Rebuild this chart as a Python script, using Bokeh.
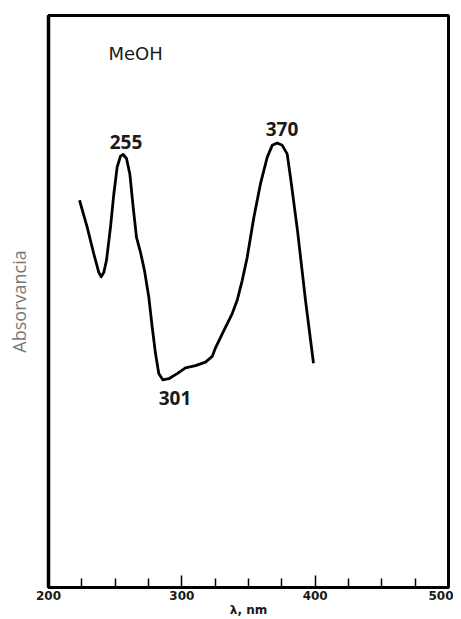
from bokeh.plotting import figure
from bokeh.models import FixedTicker, Range1d
from bokeh.core.properties import value
from bokeh.embed import file_html
from bokeh.resources import INLINE

# Spectrum (wavelength nm, relative absorbance)
wavelength = [223.25, 229.0, 234.0, 237.7, 239.5, 241.5, 243.5, 246.5, 249.0, 251.5,
              254.0, 256.0, 258.5, 261.0, 263.5, 266.0, 269.0, 272.0, 275.2, 277.8,
              280.25, 282.7, 285.7, 290.2, 296.5, 302.75, 310.25, 317.75, 322.8, 325.25,
              331.5, 337.8, 341.5, 345.3, 349.0, 354.0, 359.0, 364.0, 367.8, 371.5,
              375.3, 379.0, 381.5, 386.75, 392.75, 398.75]
absorbance = [0.677, 0.630, 0.583, 0.551, 0.543, 0.551, 0.572, 0.630, 0.688, 0.735,
              0.754, 0.757, 0.750, 0.723, 0.665, 0.612, 0.586, 0.554, 0.508, 0.455,
              0.409, 0.374, 0.363, 0.365, 0.374, 0.384, 0.388, 0.394, 0.404, 0.419,
              0.449, 0.479, 0.502, 0.537, 0.577, 0.647, 0.706, 0.752, 0.773, 0.777,
              0.773, 0.758, 0.717, 0.624, 0.502, 0.392]

peak_labels = ["255", "370", "301"]
peak_x = [258.1, 375.1, 294.9]
peak_y = [0.779, 0.801, 0.331]

solvent = "MeOH"
solvent_x = [245.0]
solvent_y = [0.934]

x_major = [200, 300, 400, 500]
x_minor = [225, 250, 275, 325, 350, 375, 425, 450, 475]

p = figure(width=453, height=619, output_backend="svg", toolbar_location=None,
           x_range=Range1d(200, 500), y_range=Range1d(0, 1),
           min_border_left=48, min_border_right=5, min_border_top=15, min_border_bottom=32)

p.grid.visible = False
p.outline_line_color = "black"
p.outline_line_width = 3
p.background_fill_color = "white"
p.border_fill_color = "white"

p.line(wavelength, absorbance, line_color="black", line_width=2.8, line_join="round")

p.text(x=peak_x, y=peak_y, text=peak_labels, text_font=value("Open Sans"),
       text_font_style="bold", text_font_size="19px", text_align="center",
       text_baseline="middle", text_color="#1a1a1a")
p.text(x=solvent_x, y=solvent_y, text=[solvent], text_font=value("DejaVu Sans"),
       text_font_size="18px", text_align="left", text_baseline="middle",
       text_color="#1a1a1a")

xa = p.xaxis[0]
xa.ticker = FixedTicker(ticks=x_major, minor_ticks=x_minor)
xa.axis_line_width = 3
xa.major_tick_in = 12
xa.major_tick_out = 0
xa.minor_tick_in = 9
xa.minor_tick_out = 0
xa.major_tick_line_width = 1.5
xa.minor_tick_line_width = 1.5
xa.major_label_standoff = 3
xa.major_label_text_font = "DejaVu Sans"
xa.major_label_text_font_style = "bold"
xa.major_label_text_font_size = "12px"
xa.major_label_text_color = "#1a1a1a"
xa.axis_label = "λ, nm"
xa.axis_label_standoff = 0
xa.axis_label_text_font = "DejaVu Sans"
xa.axis_label_text_font_style = "bold"
xa.axis_label_text_font_size = "12px"
xa.axis_label_text_color = "#1a1a1a"

ya = p.yaxis[0]
ya.ticker = FixedTicker(ticks=[])
ya.axis_line_width = 3.5
ya.axis_label = "Absorvancia"
ya.axis_label_standoff = 18
ya.axis_label_text_font = "Open Sans"
ya.axis_label_text_font_style = "normal"
ya.axis_label_text_font_size = "18px"
ya.axis_label_text_color = "#777777"

open("out.html", "w").write(file_html(p, INLINE))
